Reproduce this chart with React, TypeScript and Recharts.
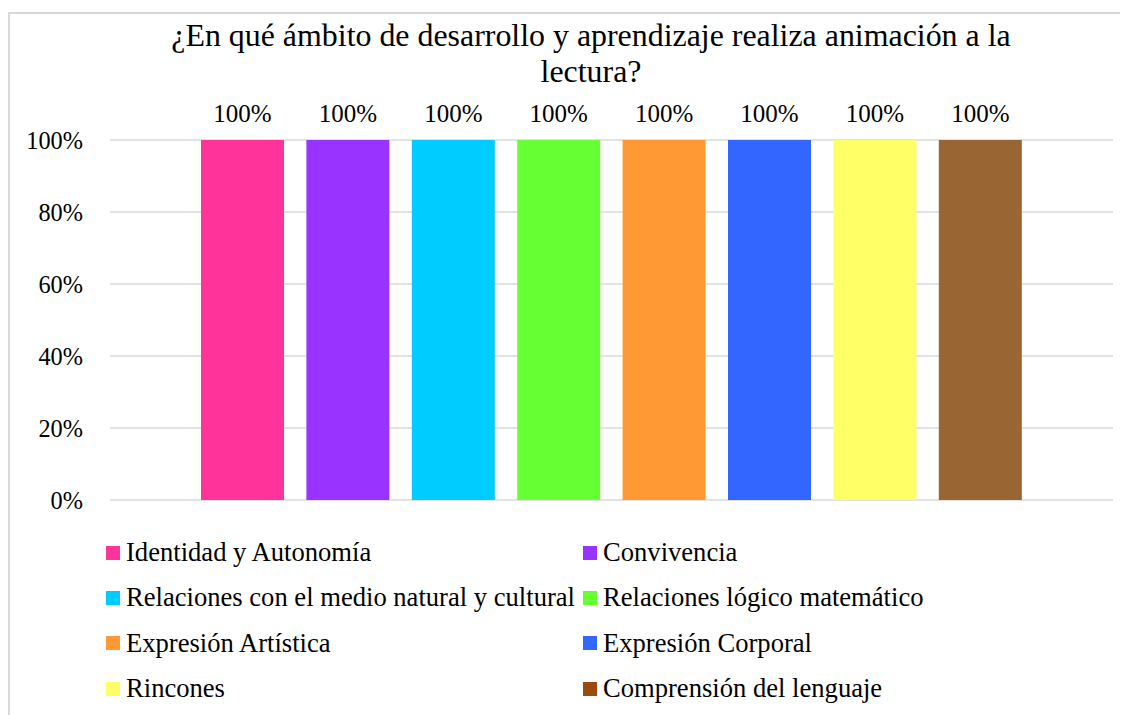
import React from 'react';
import { BarChart, Bar, XAxis, YAxis, CartesianGrid, LabelList } from 'recharts';

const titleLines = ['¿En qué ámbito de desarrollo y aprendizaje realiza animación a la', 'lectura?'];
const seriesNames = [
  'Identidad y Autonomía',
  'Convivencia',
  'Relaciones con el medio natural y cultural',
  'Relaciones lógico matemático',
  'Expresión Artística',
  'Expresión Corporal',
  'Rincones',
  'Comprensión del lenguaje',
];
const seriesValues = [1, 1, 1, 1, 1, 1, 1, 1];
const barColors = ['#FF3399', '#9933FF', '#00CCFF', '#66FF33', '#FF9933', '#3366FF', '#FFFF66', '#996633'];
const legendColors = ['#FF3399', '#9933FF', '#00CCFF', '#66FF33', '#FF9933', '#3366FF', '#FFFF66', '#9C4A0E'];
const yTicks = [0, 0.2, 0.4, 0.6, 0.8, 1];

const FONT = '"Liberation Serif", "Times New Roman", serif';
const pct = (v: number) => `${Math.round(Number(v) * 100)}%`;

const row: Record<string, string | number> = { name: '' };
seriesValues.forEach((v, i) => {
  row[`s${i}`] = v;
});
const data = [row];

export default function App() {
  return (
    <div style={{ position: 'relative', width: 1120, height: 707, overflow: 'hidden', fontFamily: FONT, background: '#fff' }}>
      <div
        style={{
          position: 'absolute',
          left: 0,
          top: 4,
          width: 1200,
          height: 800,
          borderLeft: '2px solid #d9d9d9',
          borderTop: '2px solid #d9d9d9',
          boxSizing: 'border-box',
        }}
      />
      <div
        style={{
          position: 'absolute',
          left: 83,
          top: 10,
          width: 1000,
          textAlign: 'center',
          fontSize: 31.9,
          lineHeight: '36px',
          color: '#000',
          whiteSpace: 'nowrap',
        }}
      >
        {titleLines[0]}
        <br />
        {titleLines[1]}
      </div>
      <div style={{ position: 'absolute', left: 0, top: 0 }}>
        <BarChart
          width={1120}
          height={520}
          data={data}
          margin={{ top: 132, right: 15, bottom: 28, left: 0 }}
          barSize={83}
          barGap={22.4}
        >
          <CartesianGrid horizontal vertical={false} stroke="#d9d9d9" strokeWidth={1.5} />
          <XAxis dataKey="name" hide />
          <YAxis
            width={102}
            domain={[0, 1]}
            ticks={yTicks}
            tickFormatter={pct}
            axisLine={false}
            tickLine={false}
            tickSize={0}
            tickMargin={27}
            tick={{ fontSize: 24.3, fill: '#000', fontFamily: FONT }}
          />
          {seriesNames.map((name, i) => (
            <Bar key={name} dataKey={`s${i}`} name={name} fill={barColors[i]} isAnimationActive={false}>
              <LabelList
                dataKey={`s${i}`}
                position="top"
                offset={18}
                formatter={pct}
                style={{ fontSize: 25, fill: '#000', fontFamily: FONT }}
              />
            </Bar>
          ))}
        </BarChart>
      </div>
      <div
        style={{
          position: 'absolute',
          left: 98,
          top: 522,
          display: 'grid',
          gridTemplateColumns: '477px 480px',
          gridAutoRows: '45.3px',
          fontSize: 26.6,
          color: '#000',
        }}
      >
        {seriesNames.map((name, i) => (
          <div key={name} style={{ display: 'flex', alignItems: 'center', whiteSpace: 'nowrap' }}>
            <span style={{ display: 'inline-block', width: 14, height: 14, background: legendColors[i], marginRight: 6, flex: 'none' }} />
            <span>{name}</span>
          </div>
        ))}
      </div>
    </div>
  );
}
